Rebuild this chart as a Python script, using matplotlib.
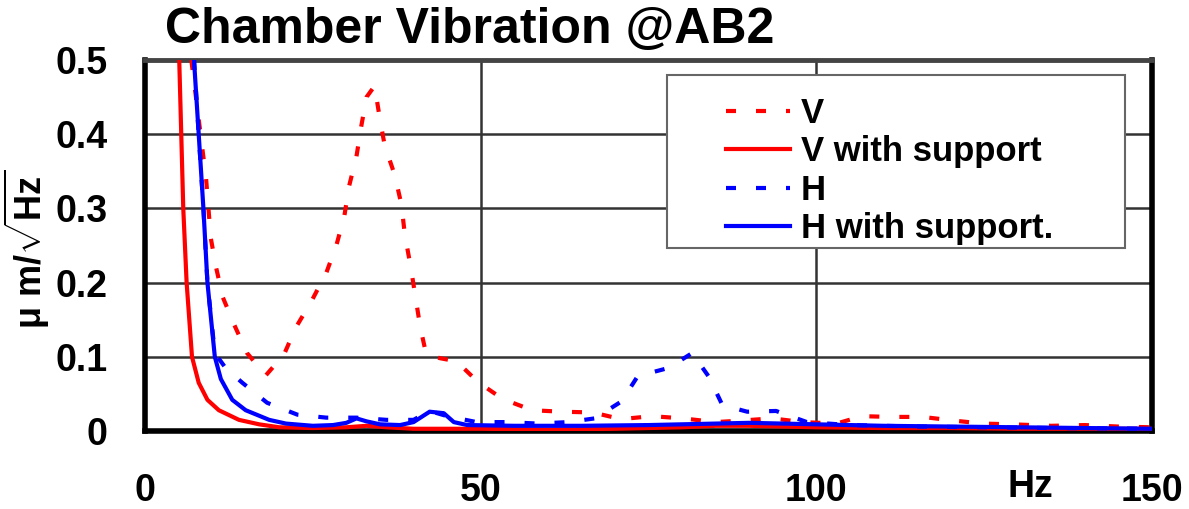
import matplotlib
matplotlib.use("Agg")
import matplotlib.pyplot as plt
from matplotlib.patches import Rectangle

plt.rcParams['font.family'] = ['Liberation Sans', 'DejaVu Sans']
plt.rcParams['font.weight'] = 'bold'
plt.rcParams['mathtext.fontset'] = 'custom'
plt.rcParams['mathtext.rm'] = 'Liberation Sans:bold'
plt.rcParams['mathtext.it'] = 'Liberation Sans:bold'
plt.rcParams['mathtext.bf'] = 'Liberation Sans:bold'

# ---- data ----
v_x = [6.9, 8.0, 9.1, 9.8, 10.6, 11.6, 13.3, 15.2, 18.0, 20.7, 22.5, 24.8, 27.0, 28.5,
       29.7, 30.4, 31.5, 32.2, 33.0, 34.2, 35.0, 35.7, 37.2, 38.2, 38.7, 39.6, 40.3, 41.0,
       41.9, 44.0, 46.4, 49.6, 53.3, 57.7, 62.0, 66.7, 70.9, 75.5, 80.1, 85.0, 88.7, 93.4,
       98.0, 103.0, 106.8, 111.0, 115.8, 120.5, 124.8, 129.2, 135.0, 140.0, 145.0, 150.0]
v_y = [0.5, 0.42, 0.34, 0.26, 0.22, 0.18, 0.143, 0.105, 0.075, 0.103, 0.14, 0.175, 0.213, 0.25,
       0.29, 0.33, 0.37, 0.41, 0.45, 0.465, 0.42, 0.385, 0.345, 0.305, 0.265, 0.22, 0.18, 0.14,
       0.103, 0.098, 0.094, 0.066, 0.043, 0.028, 0.026, 0.025, 0.016, 0.02, 0.017, 0.012, 0.014, 0.017,
       0.012, 0.01, 0.02, 0.019, 0.019, 0.014, 0.01, 0.009, 0.007, 0.008, 0.006, 0.005]

vs_x = [5.1, 5.4, 5.7, 6.2, 7.0, 8.0, 9.3, 11.0, 14.0, 17.0, 20.0, 25.0, 30.0, 33.0, 36.0,
        40.0, 50.0, 60.0, 70.0, 80.0, 85.0, 90.0, 95.0, 100.0, 110.0, 120.0, 130.0, 140.0, 150.0]
vs_y = [0.5, 0.4, 0.3, 0.2, 0.1, 0.065, 0.042, 0.028, 0.015, 0.009, 0.005, 0.004, 0.005, 0.007, 0.005,
        0.003, 0.003, 0.002, 0.003, 0.005, 0.007, 0.007, 0.006, 0.005, 0.004, 0.004, 0.003, 0.003, 0.003]

h_x = [7.3, 8.0, 8.7, 9.3, 10.4, 12.0, 14.5, 18.2, 22.7, 27.0, 31.5, 36.0, 40.0, 42.4, 45.0,
       49.4, 54.0, 58.5, 63.0, 67.0, 71.0, 73.4, 78.0, 81.5, 84.0, 86.0, 89.7, 94.0, 98.6,
       105.0, 115.0, 125.0, 135.0, 150.0]
h_y = [0.5, 0.4, 0.3, 0.2, 0.105, 0.085, 0.065, 0.038, 0.022, 0.018, 0.018, 0.015, 0.015, 0.027, 0.02,
       0.012, 0.012, 0.01, 0.012, 0.017, 0.04, 0.074, 0.085, 0.105, 0.073, 0.035, 0.026, 0.027, 0.012,
       0.008, 0.006, 0.005, 0.004, 0.003]

hs_x = [7.3, 8.0, 8.7, 9.3, 10.4, 11.3, 13.0, 15.0, 18.5, 21.0, 25.0, 28.0, 30.0, 31.5, 33.0,
        35.0, 38.0, 40.0, 42.4, 44.5, 46.0, 48.0, 55.0, 65.0, 75.0, 80.0, 85.0, 90.0, 95.0,
        100.0, 110.0, 120.0, 130.0, 140.0, 150.0]
hs_y = [0.5, 0.4, 0.3, 0.2, 0.1, 0.07, 0.042, 0.028, 0.015, 0.01, 0.007, 0.008, 0.011, 0.017, 0.013,
        0.009, 0.008, 0.012, 0.026, 0.024, 0.012, 0.008, 0.007, 0.007, 0.008, 0.009, 0.01, 0.011, 0.01,
        0.009, 0.007, 0.006, 0.005, 0.004, 0.003]

labels = ['V', 'V with support', 'H', 'H with support.']
x_ticks = [0, 50, 100, 150]
y_ticks = [0, 0.1, 0.2, 0.3, 0.4, 0.5]
y_tick_labels = ['0', '0.1', '0.2', '0.3', '0.4', '0.5']

# ---- figure ----
fig = plt.figure(figsize=(11.89, 5.09), dpi=100)
ax = fig.add_axes([145/1189, 1 - 431/509, (1152-145)/1189, (431-60)/509])

lw = 3.0
dash = (2.4, 4.8)
ax.plot(v_x, v_y, color='#ff0000', lw=lw, dashes=dash, label=labels[0], zorder=3)
ax.plot(vs_x, vs_y, color='#ff0000', lw=lw, label=labels[1], zorder=3)
ax.plot(h_x, h_y, color='#0000ff', lw=lw, dashes=dash, label=labels[2], zorder=4)
ax.plot(hs_x, hs_y, color='#0000ff', lw=lw, label=labels[3], zorder=4)

ax.set_xlim(0, 150)
ax.set_ylim(0, 0.5)
ax.set_xticks(x_ticks)
ax.set_yticks(y_ticks)
ax.set_yticklabels(y_tick_labels)
ax.tick_params(axis='both', length=0, labelsize=27)
ax.tick_params(axis='y', pad=27)
ax.tick_params(axis='x', pad=30)
for lab in ax.get_xticklabels() + ax.get_yticklabels():
    lab.set_fontweight('bold')
ax.grid(True, color='#333333', lw=1.8, zorder=1)
ax.set_axisbelow(True)
for side in ['left', 'bottom', 'right']:
    ax.spines[side].set_linewidth(4)
    ax.spines[side].set_color('black')
ax.spines['top'].set_linewidth(3.5)
ax.spines['top'].set_color('#444444')

ax.set_ylabel('\u03bc m/' + r'$\sqrt{\mathrm{Hz}}$', fontsize=26, fontweight='bold')
ax.yaxis.set_label_coords(-0.092, 0.49)

ax.text(0.879, -0.152, 'Hz', transform=ax.transAxes, ha='center', va='center',
        fontsize=27, fontweight='bold')

fig.text(165/1189, 1 - 30/509, 'Chamber Vibration @AB2', ha='left', va='center',
         fontsize=36, fontweight='bold')

# legend box
box = Rectangle((0.518, 0.493), 0.455, 0.467, transform=ax.transAxes,
                facecolor='white', edgecolor='#666666', lw=1.5, zorder=5)
ax.add_patch(box)
leg = ax.legend(loc='upper left', bbox_to_anchor=(0.553, 0.965), frameon=False,
                fontsize=25, handlelength=1.85, handletextpad=0.3, labelspacing=0.15,
                borderpad=0.2)
leg.set_zorder(6)
for t in leg.get_texts():
    t.set_fontweight('bold')

fig.savefig('out.png', dpi=100)
